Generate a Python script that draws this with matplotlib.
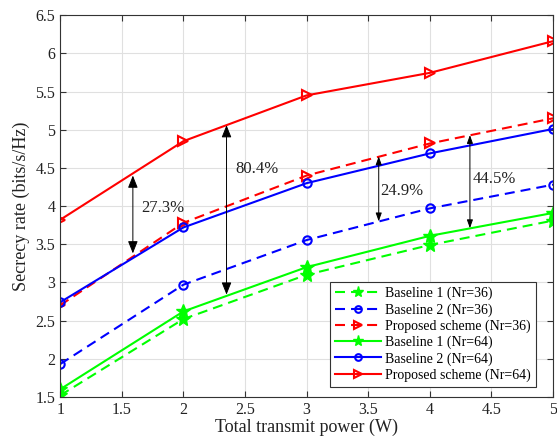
import matplotlib
matplotlib.use("Agg")
import matplotlib.pyplot as plt
import numpy as np

plt.rcParams['font.family'] = ['Liberation Serif', 'DejaVu Serif']

# Data
power = [1, 2, 3, 4, 5]
base1_36 = [1.52, 2.52, 3.10, 3.49, 3.81]
base2_36 = [1.93, 2.97, 3.555, 3.97, 4.28]
prop_36 = [2.70, 3.78, 4.40, 4.82, 5.15]
base1_64 = [1.60, 2.62, 3.20, 3.61, 3.91]
base2_64 = [2.74, 3.72, 4.30, 4.69, 5.01]
prop_64 = [3.82, 4.85, 5.45, 5.745, 6.16]

# gain annotations
gain_x = [1.59, 2.35, 3.585, 4.325]
gain_top = [4.40, 5.06, 4.65, 4.93]
gain_bot = [3.38, 2.84, 3.80, 3.71]
gain_labels = ['27.3%', '80.4%', '24.9%', '44.5%']
label_x = [1.66, 2.42, 3.60, 4.35]
label_y = [3.97, 4.48, 4.20, 4.35]
big_head = [True, True, False, False]

fig = plt.figure(figsize=(5.57, 4.47), dpi=100)
ax = fig.add_axes([0.108, 0.112, 0.885, 0.854])

green = '#00ff00'
dash = (4.8, 2.9)
ax.plot(power, base1_36, '--', dashes=dash, color=green, marker='*', ms=10, lw=1.5,
        label='Baseline 1 (Nr=36)')
ax.plot(power, base2_36, '--', dashes=dash, color='blue', marker='o', ms=6, mfc='none',
        mew=1.5, lw=1.5, label='Baseline 2 (Nr=36)')
ax.plot(power, prop_36, '--', dashes=dash, color='red', marker='>', ms=7, mfc='none',
        mew=1.5, lw=1.5, label='Proposed scheme (Nr=36)')
ax.plot(power, base1_64, '-', color=green, marker='*', ms=10, lw=1.5,
        label='Baseline 1 (Nr=64)')
ax.plot(power, base2_64, '-', color='blue', marker='o', ms=6, mfc='none', mew=1.5,
        lw=1.5, label='Baseline 2 (Nr=64)')
ax.plot(power, prop_64, '-', color='red', marker='>', ms=7, mfc='none', mew=1.5,
        lw=1.5, label='Proposed scheme (Nr=64)')

for i in range(len(gain_x)):
    if big_head[i]:
        style = '<|-|>,head_length=0.75,head_width=0.3'
    else:
        style = '<|-|>,head_length=0.5,head_width=0.18'
    ax.annotate('', xy=(gain_x[i], gain_top[i]), xytext=(gain_x[i], gain_bot[i]),
                arrowprops=dict(arrowstyle=style, color='black', lw=0.7,
                                mutation_scale=10, shrinkA=0, shrinkB=0))
    ax.text(label_x[i], label_y[i], gain_labels[i], fontsize=12, va='center', ha='left',
            color='#222222')

ax.set_xlim(1, 5)
ax.set_ylim(1.5, 6.5)
ax.set_xticks(np.arange(1, 5.01, 0.5))
ax.set_yticks(np.arange(1.5, 6.51, 0.5))
ax.set_xticklabels(['1', '1.5', '2', '2.5', '3', '3.5', '4', '4.5', '5'])
ax.set_yticklabels(['1.5', '2', '2.5', '3', '3.5', '4', '4.5', '5', '5.5', '6', '6.5'])
ax.tick_params(direction='in', top=True, right=True, labelsize=11.5, length=4,
               color='#333333', labelcolor='#222222')
ax.grid(True, color='#e0e0e0', lw=0.8)
ax.set_axisbelow(True)
for s in ax.spines.values():
    s.set_color('#333333')
    s.set_linewidth(0.8)

ax.set_xlabel('Total transmit power (W)', fontsize=13, labelpad=1, color='#222222')
ax.set_ylabel('Secrecy rate (bits/s/Hz)', fontsize=13, labelpad=4, color='#222222')

leg = ax.legend(loc='lower right', fontsize=10, fancybox=False, framealpha=1,
                edgecolor='#333333', borderaxespad=0.0, bbox_to_anchor=(0.965, 0.027),
                handlelength=3.3, handletextpad=0.3, labelspacing=0.2, borderpad=0.35,
                markerscale=0.8)
leg.get_frame().set_linewidth(0.8)

fig.savefig('out.png', dpi=100)
